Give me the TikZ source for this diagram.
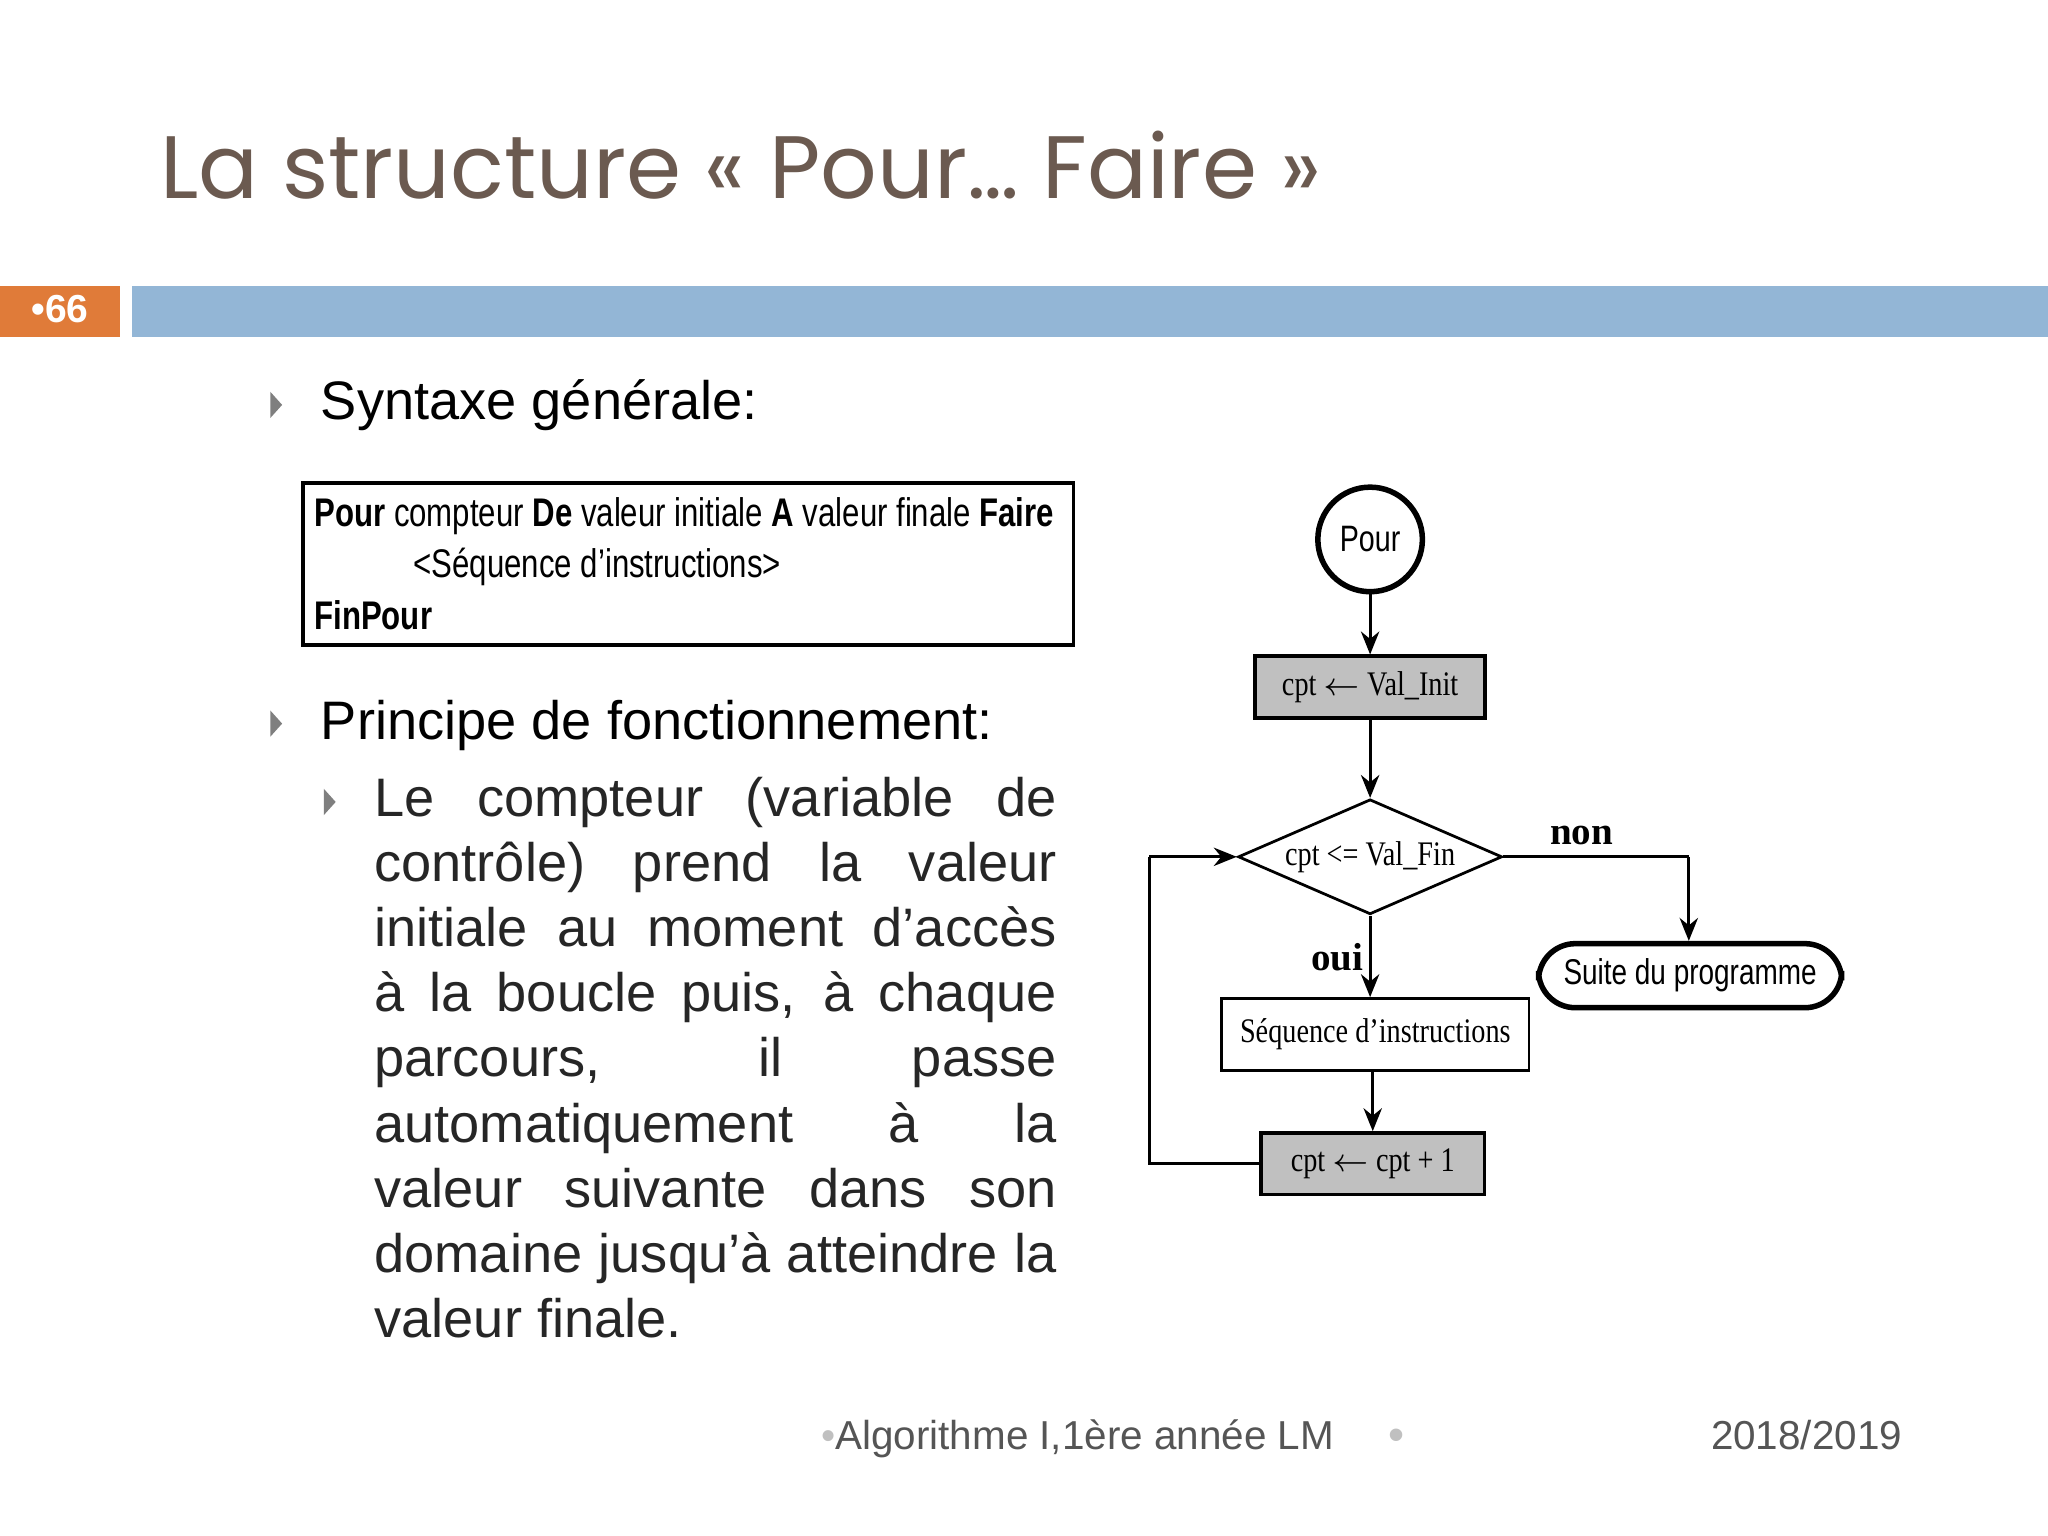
\documentclass[tikz,border=0pt]{standalone}
\usepackage{fontspec}
\setmainfont{Liberation Sans}
\newfontfamily\titlefont{Poppins}
\newfontfamily\narrowsans[FakeStretch=0.78]{Liberation Sans}
\newfontfamily\narrowserif[FakeStretch=0.82]{Liberation Serif}
\usetikzlibrary{shapes.geometric,arrows.meta}
\definecolor{titlec}{HTML}{6B5A50}
\definecolor{barblue}{HTML}{93B6D6}
\definecolor{orng}{HTML}{E07B39}
\definecolor{boxgray}{HTML}{C0C0C0}
\definecolor{footc}{HTML}{555555}
\definecolor{bulc}{HTML}{7F7F7F}
\tikzset{
  fbox/.style={draw,thick,minimum height=0.47cm,inner sep=2pt,font=\narrowserif\fontsize{7.5}{9}\selectfont},
  gbox/.style={fbox,fill=boxgray},
  arr/.style={-{Stealth[length=5pt,width=4pt]},semithick},
  ln/.style={semithick},
  tri/.style={fill=bulc},
}
\begin{document}
\begin{tikzpicture}[x=0.01cm,y=-0.01cm]
\useasboundingbox (0,0) rectangle (1568,1176);
\fill[white] (0,0) rectangle (1568,1176);
% title
\node[anchor=base west,inner sep=0,text=titlec,font=\titlefont\fontsize{19.3}{22}\selectfont] (title) at (122,152) {La structure « Pour… Faire »};
\fill[orng] (0,219) rectangle (92,258);
\fill[barblue] (101,219) rectangle (1568,258);
\node[text=white,font=\bfseries\fontsize{8.5}{10}\selectfont] (num) at (46,237) {•66};
% bullets
\fill[tri] (207,300)--(216,310)--(207,320)--cycle;
\node[anchor=base west,inner sep=0,font=\fontsize{11.8}{14}\selectfont] (s1) at (245,321) {Syntaxe générale:};
\draw[thick] (232,370) rectangle (822,494);
\node[anchor=base west,inner sep=0,font=\narrowsans\fontsize{8.7}{12}\selectfont] (l1) at (240,403) {\textbf{Pour} compteur \textbf{De} valeur initiale \textbf{A} valeur finale \textbf{Faire}};
\node[anchor=base west,inner sep=0,font=\narrowsans\fontsize{8.7}{12}\selectfont] (l2) at (316,442) {<Séquence d’instructions>};
\node[anchor=base west,inner sep=0,font=\narrowsans\bfseries\fontsize{8.7}{12}\selectfont] (l3) at (240,482) {FinPour};
\fill[tri] (207,544)--(216,554)--(207,564)--cycle;
\node[anchor=base west,inner sep=0,font=\fontsize{11.8}{14}\selectfont] (s2) at (245,566) {Principe de fonctionnement:};
\fill[tri] (248,604)--(257,614)--(248,624)--cycle;
\node[anchor=north west,inner sep=0,text=black!85,font=\fontsize{11.8}{14.2}\selectfont,align=left] (para) at (286,594) {%
\makebox[5.22cm][s]{Le compteur (variable de}\\
\makebox[5.22cm][s]{contrôle) prend la valeur}\\
\makebox[5.22cm][s]{initiale au moment d’accès}\\
\makebox[5.22cm][s]{à la boucle puis, à chaque}\\
\makebox[5.22cm][s]{parcours, il passe}\\
\makebox[5.22cm][s]{automatiquement à la}\\
\makebox[5.22cm][s]{valeur suivante dans son}\\
\makebox[5.22cm][s]{domaine jusqu’à atteindre la}\\
valeur finale.};
% flowchart
\node[circle,draw,very thick,minimum size=0.8cm,inner sep=0,font=\narrowsans\fontsize{8}{10}\selectfont] (pour) at (1049,413) {Pour};
\node[gbox,minimum width=1.76cm] (init) at (1049,526) {cpt $\leftarrow$ Val\_Init};
\node[diamond,draw,semithick,minimum width=2.02cm,minimum height=0.88cm,inner sep=0,aspect=2.3,font=\narrowserif\fontsize{7.5}{9}\selectfont] (cond) at (1049,656) {cpt <= Val\_Fin};
\node[fbox,semithick,minimum width=2.35cm,minimum height=0.55cm] (seq) at (1053,792) {Séquence d’instructions};
\node[gbox,minimum width=1.71cm] (inc) at (1051,891) {cpt $\leftarrow$ cpt + 1};
\node[draw,very thick,rounded corners=8pt,minimum width=2.32cm,minimum height=0.49cm,font=\narrowsans\fontsize{7.8}{10}\selectfont] (suite) at (1294,747) {Suite du programme};
\coordinate (c1) at (1293,656);
\coordinate (c2) at (880,891);
\coordinate (c3) at (880,656);
\draw[arr] (pour) -- (init);
\draw[arr] (init) -- (cond);
\draw[arr] (cond.south) -- (seq.north -| cond.south);
\draw[arr] (seq.south -| inc.north) -- (inc);
\draw[ln] (cond.east) -- (c1);
\draw[arr] (c1) -- (suite.north -| c1);
\draw[ln] (inc.west) -- (c2) -- (c3);
\draw[arr] (c3) -- (cond.west);
\node[font=\bfseries\fontsize{8.5}{10}\selectfont,inner sep=0] (non) at (1211,640) {\fontspec{Liberation Serif}non};
\node[font=\bfseries\fontsize{8.5}{10}\selectfont,inner sep=0] (oui) at (1024,733) {\fontspec{Liberation Serif}oui};
% footer
\node[anchor=base west,inner sep=0,text=footc,font=\fontsize{8.8}{12}\selectfont] (f1) at (628,1110) {\textcolor{boxgray}{•}Algorithme I,1ère année LM};
\node[inner sep=0,text=boxgray,font=\fontsize{10}{12}\selectfont] (f2) at (1069,1102) {•};
\node[anchor=base east,inner sep=0,text=footc,font=\fontsize{8.8}{12}\selectfont] (f3) at (1457,1110) {2018/2019};
\end{tikzpicture}
\end{document}
